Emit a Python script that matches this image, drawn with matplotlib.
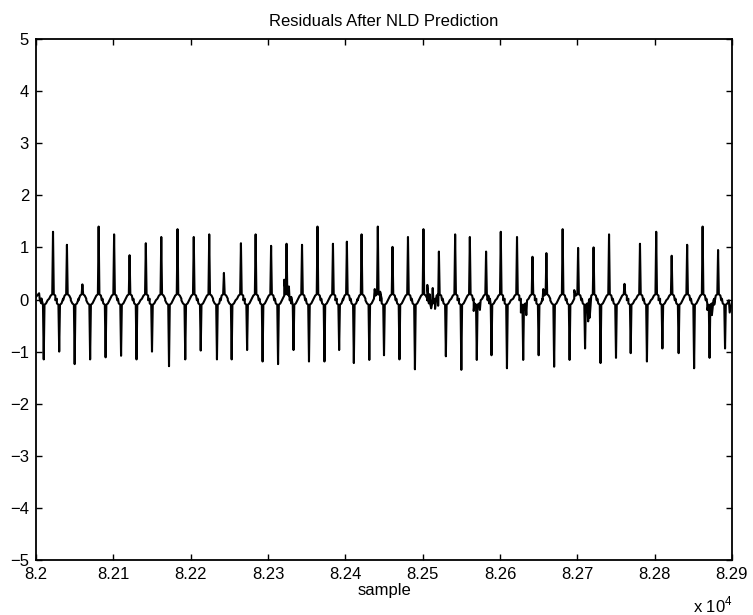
import numpy as np
import matplotlib
matplotlib.use("Agg")
import matplotlib.pyplot as plt

plt.rcParams['font.family'] = ['Liberation Sans', 'DejaVu Sans']
plt.rcParams['mathtext.fontset'] = 'custom'
plt.rcParams['mathtext.rm'] = 'Liberation Sans'

# positive spikes (sample index, height)
pos_t = [82022, 82040, 82060, 82081, 82101, 82121, 82142, 82162, 82183, 82204,
         82224, 82243, 82265, 82284, 82304, 82324, 82344, 82364, 82384, 82402,
         82421, 82442, 82461, 82481, 82501, 82521, 82542, 82561, 82582, 82601,
         82622, 82642, 82660, 82681, 82701, 82721, 82741, 82761, 82781, 82802,
         82822, 82842, 82862, 82882]
pos_h = [1.3, 1.05, 0.29, 1.4, 1.25, 0.85, 1.08, 1.2, 1.35, 1.2,
         1.25, 0.51, 1.08, 1.25, 1.03, 1.07, 1.05, 1.4, 1.07, 1.11,
         1.25, 1.4, 1.01, 1.2, 1.35, 0.92, 1.25, 1.2, 0.92, 1.3,
         1.2, 0.82, 0.89, 1.35, 0.99, 1.0, 1.25, 0.3, 1.07, 1.3,
         0.84, 1.05, 1.4, 0.95]

# negative spikes (sample index, depth)
neg_t = [82010, 82030, 82050, 82070, 82090, 82110, 82130, 82150, 82172, 82193,
         82213, 82234, 82253, 82273, 82293, 82313, 82333, 82353, 82373, 82392,
         82411, 82431, 82450, 82470, 82490, 82511, 82530, 82550, 82570, 82589,
         82609, 82630, 82650, 82670, 82690, 82710, 82730, 82750, 82769, 82790,
         82810, 82831, 82851, 82871, 82891]
neg_h = [-1.15, -1.0, -1.24, -1.15, -1.11, -1.08, -1.15, -1.0, -1.28, -1.15,
         -0.98, -1.15, -1.15, -0.97, -1.19, -1.24, -0.97, -1.19, -1.19, -0.97,
         -1.22, -1.16, -1.07, -1.15, -1.34, -0.17, -1.09, -1.35, -1.16, -1.07,
         -1.32, -1.16, -1.07, -1.29, -1.16, -0.94, -1.22, -1.12, -1.03, -1.19,
         -0.94, -1.03, -1.32, -1.12, -0.94]

# irregular baseline points
wob_t = [82000, 82004, 82007, 82321, 82327, 82330, 82438, 82445,
         82506, 82509, 82513, 82516, 82520, 82566, 82574, 82627, 82634,
         82656, 82696, 82714, 82716, 82868, 82874, 82877, 82895, 82897, 82900]
wob_v = [0.05, 0.12, 0.02, 0.38, 0.25, 0.05, 0.2, 0.15,
         0.28, 0.1, 0.22, -0.18, -0.12, -0.22, -0.2, -0.25, -0.3,
         0.2, 0.18, -0.42, -0.35, -0.2, -0.3, -0.1, -0.05, -0.25, -0.05]

hump = 0.1
dip = -0.1

# rounded shoulders on either side of each spike
offs = [-5, -3, -1, 0, 1, 3, 5]
shape = [0.15, 0.75, 1.0, None, 1.0, 0.75, 0.15]

pts = []
for times, peaks, lvl in [(pos_t, pos_h, hump), (neg_t, neg_h, dip)]:
    for t, h in zip(times, peaks):
        for dt, f in zip(offs, shape):
            pts.append((t + dt, h if f is None else f * lvl))
for t, v in zip(wob_t, wob_v):
    pts.append((t, v))
pts.sort(key=lambda p: p[0])
xs = np.array([p[0] for p in pts])
ys = np.array([p[1] for p in pts])

fig = plt.figure(figsize=(7.53, 6.15), dpi=100)
ax = fig.add_axes([36/753, 55/615, 696/753, 521/615])
ax.plot(xs, ys, color='k', lw=1.5)

ax.set_xlim(82000, 82900)
ax.set_ylim(-5, 5)
ax.set_xticks(np.arange(82000, 82901, 100))
ax.set_xticklabels(['8.2', '8.21', '8.22', '8.23', '8.24', '8.25', '8.26', '8.27', '8.28', '8.29'])
ax.set_yticks(np.arange(-5, 6, 1))
ax.tick_params(direction='in', top=True, right=True, length=4, width=1,
               labelsize=12, pad=5)
for s in ax.spines.values():
    s.set_linewidth(1.3)

ax.set_title('Residuals After NLD Prediction', fontsize=12, pad=9)
ax.set_xlabel('sample', fontsize=12, labelpad=1)
fig.text(713/753, 1 - 605/615, r'x 10$^{4}$', fontsize=12, ha='center', va='center')

fig.savefig('out.png', dpi=100)
